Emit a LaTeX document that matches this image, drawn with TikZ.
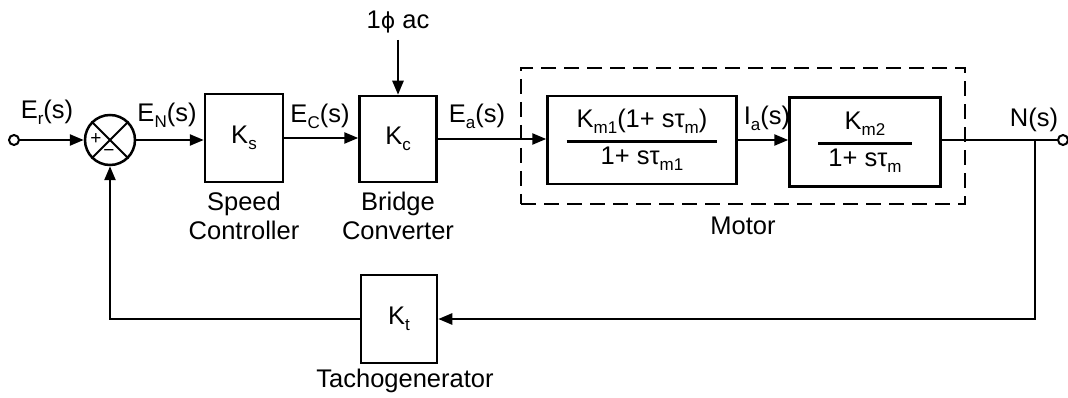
\documentclass[tikz,border=0pt]{standalone}
\usepackage{fontspec}
\setmainfont{Liberation Sans}
\newfontfamily\symfont{DejaVu Sans}
\usetikzlibrary{arrows.meta}
\newcommand\sbs[1]{\raisebox{-0.45ex}{\fontsize{17}{17}\selectfont #1}}
\begin{document}
\begin{tikzpicture}[x=1pt,y=-1pt,
  font=\fontsize{25.5}{29}\selectfont,
  line width=2.5pt,
  >={Triangle[length=14pt,width=11pt]},
  blk/.style={draw, inner sep=0pt},
  lbl/.style={inner sep=0pt},
  term/.style={circle, draw, fill=white, minimum size=10pt, inner sep=0pt, line width=2pt}
]
\useasboundingbox (0,0) rectangle (1068,398);

% blocks
\node[term] (in) at (14,140) {};
\node[circle, draw, minimum size=50pt, inner sep=0pt] (sum) at (110,140) {};
\draw[line width=2pt] (sum.north west) -- (sum.south east);
\draw[line width=2pt] (sum.north east) -- (sum.south west);
\node[lbl, font=\fontsize{19}{19}\selectfont] (plus) at (96,139) {+};
\node[lbl, font=\fontsize{19}{19}\selectfont] (minus) at (109,153) {−};

\node[blk, minimum width=78pt, minimum height=88pt] (ks) at (244,138) {K\sbs{s}};
\node[blk, minimum width=77pt, minimum height=86pt] (kc) at (398,139) {K\sbs{c}};

\node[draw, dash pattern=on 15pt off 8pt, minimum width=444pt, minimum height=136pt, inner sep=0pt] (motor) at (743,136) {};

\node[blk, minimum width=189pt, minimum height=88pt] (b1) at (642,140)
  {\setlength{\arrayrulewidth}{2.2pt}\renewcommand{\arraystretch}{1.1}%
   \begin{tabular}{@{\hspace{10pt}}c@{\hspace{10pt}}}K\sbs{m1}(1+ sτ\sbs{m})\\[3pt]\hline 1+ sτ\sbs{m1}\end{tabular}};
\node[blk, minimum width=151pt, minimum height=89pt] (b2) at (865,142)
  {\setlength{\arrayrulewidth}{2.2pt}\renewcommand{\arraystretch}{1.1}%
   \begin{tabular}{@{\hspace{10pt}}c@{\hspace{10pt}}}K\sbs{m2}\\[3pt]\hline 1+ sτ\sbs{m}\end{tabular}};

\node[blk, minimum width=76pt, minimum height=88pt] (kt) at (399,319) {K\sbs{t}};

\coordinate (branch) at (1035,140);
\node[term] (out) at (1063,140) {};
\coordinate (acend) at (398,40);

% texts
\node[lbl] (er) at (47,112) {E\sbs{r}(s)};
\node[lbl] (en) at (167,115) {E\sbs{N}(s)};
\node[lbl] (ec) at (320,116) {E\sbs{C}(s)};
\node[lbl] (ea) at (477,116) {E\sbs{a}(s)};
\node[lbl] (ia) at (767,118) {I\sbs{a}(s)};
\node[lbl] (ns) at (1034,120) {N(s)};
\node[lbl] (ac) at (398,22) {1{\symfont\fontsize{22}{22}\selectfont ϕ} ac};
\node[lbl, align=center] (sc) at (244,216) {Speed\\Controller};
\node[lbl, align=center] (bc) at (398,216) {Bridge\\Converter};
\node[lbl] (mt) at (743,226) {Motor};
\node[lbl] (tg) at (405,381) {Tachogenerator};

% connectors
\draw[->] (in) -- (sum.west);
\draw[->] (sum.east) -- (ks.west |- sum.east);
\draw[->] (ks.east) -- (kc.west |- ks.east);
\draw[->] (acend) -- (kc.north);
\draw[->] (kc.east) -- (b1.west |- kc.east);
\draw[->] (b1.east) -- (b2.west |- b1.east);
\draw (b2.east |- branch) -- (out);
\draw[->] (branch) |- (kt.east);
\draw[->] (kt.west) -| (sum.south);
\end{tikzpicture}
\end{document}
